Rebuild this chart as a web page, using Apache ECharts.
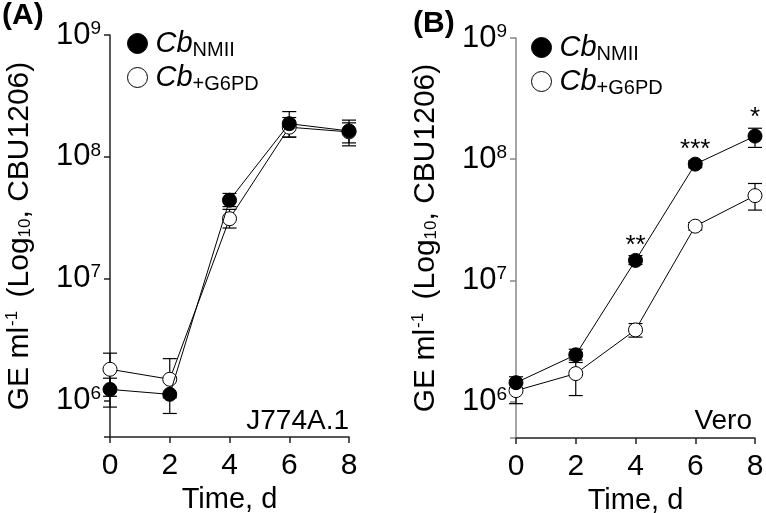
<!DOCTYPE html>
<html>
<head>
<meta charset="utf-8">
<script src="https://cdn.jsdelivr.net/npm/echarts@6/dist/echarts.min.js"></script>
<style>html,body{margin:0;padding:0;background:#fff}#c{width:766px;height:513px}</style>
</head>
<body>
<div id="c"></div>
<script>
// ---- data ----
const days = [0, 2, 4, 6, 8];
const xTicks = [0, 2, 4, 6, 8];
const yTickDecades = [1e6, 1e7, 1e8, 1e9];
const seriesNames = ['NMII', '+G6PD'];

// Panel A (J774A.1)
const aNMII      = [1.23e6, 1.12e6, 4.4e7, 1.87e8, 1.63e8];
const aNMIILow   = [8.8e5, 7.8e5, 3.9e7, 1.45e8, 1.23e8];
const aNMIIHigh  = [1.52e6, 1.55e6, 5.0e7, 2.35e8, 2.0e8];
const aG6PD      = [1.8e6, 1.49e6, 3.1e7, 1.75e8, 1.6e8];
const aG6PDLow   = [1.08e6, 1.05e6, 2.6e7, 1.45e8, 1.3e8];
const aG6PDHigh  = [2.44e6, 2.2e6, 3.7e7, 2.1e8, 1.9e8];

// Panel B (Vero)
const bNMII      = [1.43e6, 2.43e6, 1.46e7, 9.1e7, 1.55e8];
const bNMIILow   = [1.3e6, 2.1e6, 1.35e7, 8.5e7, 1.25e8];
const bNMIIHigh  = [1.6e6, 2.7e6, 1.6e7, 9.7e7, 1.8e8];
const bG6PD      = [1.23e6, 1.7e6, 3.9e6, 2.8e7, 5.0e7];
const bG6PDLow   = [9.6e5, 1.12e6, 3.4e6, 2.6e7, 3.8e7];
const bG6PDHigh  = [1.5e6, 2.2e6, 4.4e6, 3.0e7, 6.3e7];
const bSignif    = ['', '', '**', '***', '*'];

const panelLabels = ['(A)', '(B)'];
const cellLines = ['J774A.1', 'Vero'];

// ---- chart ----
const FONT = '"Liberation Sans", Arial, Helvetica, sans-serif';
const chart = echarts.init(document.getElementById('c'));

function pts(vals) { return days.map((d, i) => [d, vals[i]]); }
function errs(lo, hi) { return days.map((d, i) => [d, lo[i], hi[i]]); }

function yLabel(v) {
  const e = Math.log10(v);
  const r = Math.round(e);
  if (Math.abs(e - r) > 1e-6) return '';
  return '{b|10}{s|' + r + '}';
}

const grids = [
  { left: 110, top: 35, width: 239, height: 402, containLabel: false, outerBoundsMode: 'none' },
  { left: 516, top: 38, width: 239, height: 400, containLabel: false, outerBoundsMode: 'none' }
];

const axisColors = ['#222', '#888'];

const xAxes = grids.map((g, i) => ({
  type: 'value', gridIndex: i, min: 0, max: 8, interval: 2,
  name: 'Time, d', nameLocation: 'middle', nameGap: 44,
  nameTextStyle: { fontFamily: FONT, fontSize: 29, color: '#000' },
  axisLine: { lineStyle: { color: '#222', width: 1.5 } },
  axisTick: { show: true, length: 6, lineStyle: { color: '#222', width: 1.5 } },
  axisLabel: { fontFamily: FONT, fontSize: 30, color: '#000', margin: 14 },
  splitLine: { show: false }
}));

const yAxes = grids.map((g, i) => ({
  type: 'log', logBase: 10, gridIndex: i, min: 5e5, max: 1e9,
  name: '{t|GE ml}{sup|-1}{t| (Log}{sub|10}{t|, CBU1206)}',
  nameLocation: 'middle', nameRotate: 90, nameGap: 75,
  nameTextStyle: {
    fontFamily: FONT, color: '#000',
    rich: {
      t: { fontFamily: FONT, fontSize: 30, color: '#000' },
      sup: { fontFamily: FONT, fontSize: 17, color: '#000', padding: [0, 5, 14, 1] },
      sub: { fontFamily: FONT, fontSize: 17, color: '#000', padding: [11, 0, 0, 0] }
    }
  },
  axisLine: { show: true, lineStyle: { color: axisColors[i], width: 1.5 } },
  axisTick: { show: true, length: 6, lineStyle: { color: axisColors[i], width: 1.5 } },
  minorTick: { show: false },
  axisLabel: {
    formatter: yLabel, margin: 9,
    rich: {
      b: { fontFamily: FONT, fontSize: 31, color: '#000' },
      s: { fontFamily: FONT, fontSize: 19, color: '#000', padding: [0, 0, 13, 0] }
    }
  },
  splitLine: { show: false }
}));

function errorSeries(gi, lo, hi) {
  return {
    type: 'custom', xAxisIndex: gi, yAxisIndex: gi, z: 2, silent: true,
    data: errs(lo, hi),
    renderItem: function (params, api) {
      const x = api.value(0);
      const p1 = api.coord([x, api.value(1)]);
      const p2 = api.coord([x, api.value(2)]);
      const w = 7;
      const st = { stroke: '#000', lineWidth: 1.2, fill: 'none' };
      return {
        type: 'group',
        children: [
          { type: 'line', shape: { x1: p1[0], y1: p1[1], x2: p2[0], y2: p2[1] }, style: st },
          { type: 'line', shape: { x1: p1[0] - w, y1: p1[1], x2: p1[0] + w, y2: p1[1] }, style: st },
          { type: 'line', shape: { x1: p2[0] - w, y1: p2[1], x2: p2[0] + w, y2: p2[1] }, style: st }
        ]
      };
    }
  };
}

function lineSeries(gi, name, vals, filled, labels) {
  const data = pts(vals).map((p, i) => {
    const item = { value: p };
    if (labels && labels[i]) {
      item.label = { show: true, formatter: labels[i], distance: (i === 4 ? -2 : -6) };
    }
    return item;
  });
  return {
    type: 'line', name: name, xAxisIndex: gi, yAxisIndex: gi, z: filled ? 4 : 3,
    data: data, symbol: 'circle', symbolSize: 14, showSymbol: true,
    lineStyle: { color: '#000', width: 1 },
    itemStyle: { color: filled ? '#000' : '#fff', borderColor: '#000', borderWidth: 1 },
    label: { show: false, position: 'top', fontFamily: FONT, fontSize: 26, color: '#000' },
    emphasis: { disabled: true },
    animation: false
  };
}

const legendFmt = function (name) { return '{i|Cb}{s|' + name + '}'; };
const legendRich = {
  i: { fontFamily: FONT, fontSize: 29, fontStyle: 'italic', color: '#000', lineHeight: 30 },
  s: { fontFamily: FONT, fontSize: 20, color: '#000', padding: [13, 0, 0, 0] }
};
const legendPos = [{ left: 122, top: 24 }, { left: 526, top: 28 }];

const legends = legendPos.map(p => ({
  left: p.left, top: p.top, orient: 'vertical', itemGap: 3,
  itemWidth: 20, itemHeight: 20, selectedMode: false,
  formatter: legendFmt,
  textStyle: { rich: legendRich, padding: [0, 0, 0, 3] },
  data: [
    { name: seriesNames[0], icon: 'circle', itemStyle: { color: '#000', borderColor: '#000', borderWidth: 1 } },
    { name: seriesNames[1], icon: 'circle', itemStyle: { color: '#fff', borderColor: '#000', borderWidth: 1 } }
  ]
}));

const option = {
  backgroundColor: '#fff',
  animation: false,
  textStyle: { fontFamily: FONT },
  title: [
    { text: panelLabels[0], left: -3, top: -4, textStyle: { fontFamily: FONT, fontSize: 30, fontWeight: 'bold', color: '#000' } },
    { text: panelLabels[1], left: 408, top: 4, textStyle: { fontFamily: FONT, fontSize: 30, fontWeight: 'bold', color: '#000' } }
  ],
  grid: grids,
  xAxis: xAxes,
  yAxis: yAxes,
  legend: legends,
  graphic: [
    { type: 'text', right: 417, top: 407, style: { text: cellLines[0], font: '28px ' + FONT, fill: '#000' } },
    { type: 'text', right: 14, top: 407, style: { text: cellLines[1], font: '28px ' + FONT, fill: '#000' } }
  ],
  series: [
    errorSeries(0, aG6PDLow, aG6PDHigh),
    errorSeries(0, aNMIILow, aNMIIHigh),
    lineSeries(0, seriesNames[1], aG6PD, false),
    lineSeries(0, seriesNames[0], aNMII, true),
    errorSeries(1, bG6PDLow, bG6PDHigh),
    errorSeries(1, bNMIILow, bNMIIHigh),
    lineSeries(1, seriesNames[1], bG6PD, false),
    lineSeries(1, seriesNames[0], bNMII, true, bSignif)
  ]
};
chart.setOption(option);
</script>
</body>
</html>
